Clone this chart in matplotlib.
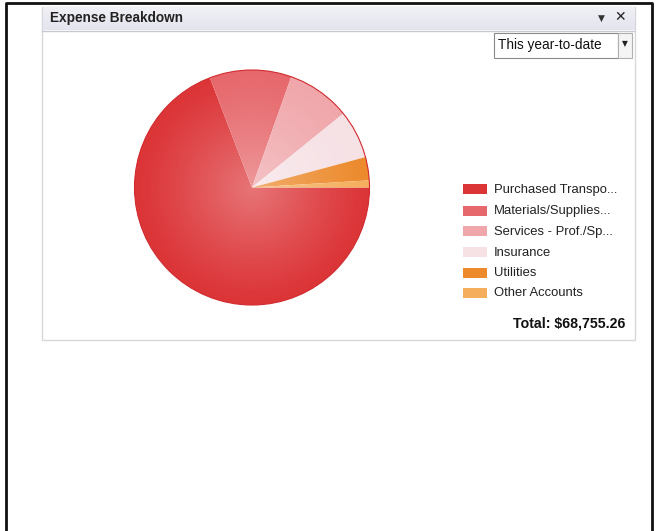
import numpy as np
import matplotlib.pyplot as plt
from matplotlib.patches import Rectangle, Circle
from matplotlib.colors import LinearSegmentedColormap

# expense categories and year-to-date amounts ($)
categories = ['Purchased Transpo...', 'Materials/Supplies...', 'Services - Prof./Sp...',
              'Insurance', 'Utilities', 'Other Accounts']
amounts = [47556.12, 7734.97, 6016.09, 4583.68, 2196.35, 668.05]
colors = ['#dc3538', '#e6686c', '#f0a7ab', '#f6e1e5', '#ec8a2c', '#f4ae5c']
period = 'This year-to-date'
title = 'Expense Breakdown'

W, H = 657, 531
fig = plt.figure(figsize=(W / 100, H / 100), dpi=100)
plt.rcParams['font.family'] = ['Liberation Sans', 'DejaVu Sans']

# pixel-space canvas for the widget chrome
bg = fig.add_axes([0, 0, 1, 1])
bg.set_xlim(0, W)
bg.set_ylim(H, 0)
bg.axis('off')

# page frame
bg.plot([5.5, 5.5, 651.5, 651.5], [H, 2.5, 2.5, H], color='#111111', lw=2.0)

# panel
bg.add_patch(Rectangle((42, 7), 593, 333, facecolor='white', edgecolor='#d8d8dc', lw=1))
grad = np.linspace(0, 1, 50).reshape(-1, 1)
bar_cmap = LinearSegmentedColormap.from_list('bar', ['#f0f0f6', '#e4e4ee'])
bg.imshow(grad, extent=[42.5, 634.5, 30, 7.5], cmap=bar_cmap, aspect='auto', zorder=1)
bg.plot([42, 634], [30.5, 30.5], color='#c8c8d0', lw=1, zorder=2)
bg.text(50, 18, title, fontsize=9.8, fontweight='bold', color='#222222', va='center', ha='left', zorder=3)
bg.text(601, 18, '\u25BC', fontsize=6.5, color='#333333', va='center', ha='center', zorder=3,
        family='DejaVu Sans')
bg.text(620, 17.5, '\u2715', fontsize=10, fontweight='bold', color='#222222', va='center', ha='center',
        zorder=3, family='DejaVu Sans')

# period dropdown
bg.add_patch(Rectangle((494, 33), 124, 25, facecolor='white', edgecolor='#8a8a8a', lw=0.8, zorder=2))
bg.add_patch(Rectangle((618, 33), 14, 25, facecolor='#f4f4f4', edgecolor='#b0b0b0', lw=0.8, zorder=2))
bg.text(498, 45.5, period, fontsize=9.8, color='#111111', va='center', ha='left', zorder=3)
bg.text(625, 44, '\u25BC', fontsize=5.5, color='#222222', va='center', ha='center', zorder=3,
        family='DejaVu Sans')

# legend
row_y = [189, 210.5, 231, 252, 272.5, 293]
for y, lab, c in zip(row_y, categories, colors):
    bg.add_patch(Rectangle((463, y - 5), 24, 10, facecolor=c, edgecolor='none', zorder=3))
    bg.text(494, y + 0.5, lab, fontsize=9.4, color='#222222', va='center', ha='left', zorder=3)

total = sum(amounts)
bg.text(625, 324, f'Total: ${total:,.2f}', fontsize=10.2, fontweight='bold', color='#111111',
        va='center', ha='right', zorder=3)

# pie
cx, cy, r = 252, 187.5, 117.5
pax = fig.add_axes([(cx - r) / W, 1 - (cy + r) / H, 2 * r / W, 2 * r / H])
wedges, _ = pax.pie(amounts, colors=colors, startangle=0, counterclock=False, radius=1,
                    wedgeprops=dict(linewidth=0))
for w in wedges:
    w.set_clip_on(False)
pax.set_xlim(-1, 1)
pax.set_ylim(-1, 1)
pax.axis('off')

# soft radial highlight over the pie
yy, xx = np.mgrid[-1:1:300j, -1:1:300j]
rr = np.sqrt(xx ** 2 + yy ** 2)
glow = np.zeros((300, 300, 4))
glow[..., :3] = 1.0
glow[..., 3] = np.clip(0.32 * (1 - rr) ** 1.2, 0, 1)
im = pax.imshow(glow, extent=[-1, 1, -1, 1], zorder=5, interpolation='bilinear')
im.set_clip_path(Circle((0, 0), 1, transform=pax.transData))
edge = Circle((0, 0), 1, facecolor='none', edgecolor='#d22a2e', lw=0.8, zorder=6)
edge.set_clip_on(False)
pax.add_patch(edge)

fig.savefig('out.png', dpi=100)
